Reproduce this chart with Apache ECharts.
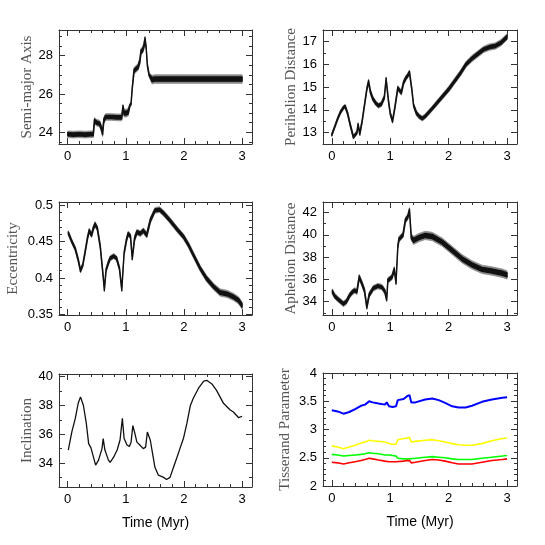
<!DOCTYPE html>
<html>
<head>
<meta charset="utf-8">
<script src="https://cdn.jsdelivr.net/npm/echarts@6/dist/echarts.min.js"></script>
<style>
  html, body { margin: 0; padding: 0; background: #fff; }
  #chart { width: 545px; height: 545px; }
</style>
</head>
<body>
<div id="chart"></div>
<script>
// ---- data (time in Myr) ----
// semi-major axis: centre of the noisy band and its full thickness
var aT   = [0, 0.1, 0.2, 0.3, 0.4, 0.44, 0.46, 0.5, 0.55, 0.58, 0.6, 0.62, 0.65, 0.75, 0.85, 0.93, 0.95, 0.97, 1.0, 1.04, 1.07, 1.09, 1.11, 1.14, 1.17, 1.21, 1.24, 1.26, 1.29, 1.31, 1.33, 1.35, 1.37, 1.4, 1.45, 1.5, 2.0, 2.5, 3.0];
var aMid = [23.9, 23.88, 23.9, 23.88, 23.9, 23.9, 24.6, 24.5, 24.45, 24.2, 23.95, 24.6, 24.8, 24.8, 24.78, 24.78, 25.35, 25.0, 25.0, 25.05, 25.4, 25.5, 26.3, 27.2, 27.3, 27.4, 27.7, 28.2, 28.3, 28.5, 28.85, 28.4, 27.5, 27.0, 26.75, 26.78, 26.78, 26.78, 26.78];
var aWid = [0.35, 0.35, 0.35, 0.35, 0.35, 0.35, 0.35, 0.35, 0.35, 0.35, 0.35, 0.35, 0.35, 0.35, 0.35, 0.35, 0.2, 0.4, 0.4, 0.4, 0.2, 0.2, 0.2, 0.35, 0.35, 0.35, 0.35, 0.35, 0.35, 0.35, 0.35, 0.2, 0.2, 0.2, 0.45, 0.45, 0.45, 0.45, 0.45];

// perihelion distance
var qT   = [0, 0.05, 0.1, 0.15, 0.2, 0.23, 0.27, 0.32, 0.37, 0.4, 0.43, 0.45, 0.48, 0.52, 0.56, 0.6, 0.63, 0.66, 0.7, 0.75, 0.8, 0.85, 0.9, 0.93, 0.97, 1.0, 1.04, 1.08, 1.13, 1.16, 1.19, 1.23, 1.27, 1.3, 1.33, 1.37, 1.4, 1.45, 1.5, 1.55, 1.6, 1.7, 1.8, 1.9, 2.0, 2.1, 2.2, 2.3, 2.4, 2.5, 2.6, 2.7, 2.8, 2.9, 3.0];
var qMid = [12.9, 13.25, 13.6, 13.9, 14.1, 14.15, 13.85, 13.3, 12.8, 12.9, 13.0, 13.35, 12.95, 13.5, 14.2, 14.9, 15.25, 14.8, 14.5, 14.3, 14.18, 14.25, 14.55, 15.35, 14.4, 13.85, 13.5, 14.1, 14.95, 14.85, 14.75, 15.2, 15.4, 15.5, 15.65, 14.9, 14.2, 13.85, 13.7, 13.62, 13.72, 14.0, 14.3, 14.6, 14.9, 15.25, 15.6, 16.0, 16.25, 16.45, 16.65, 16.75, 16.8, 16.95, 17.2];
var qWid = [0.14, 0.14, 0.16, 0.18, 0.18, 0.18, 0.18, 0.18, 0.18, 0.18, 0.18, 0.18, 0.18, 0.18, 0.18, 0.18, 0.18, 0.22, 0.22, 0.22, 0.22, 0.22, 0.22, 0.18, 0.18, 0.18, 0.18, 0.18, 0.22, 0.22, 0.22, 0.22, 0.22, 0.22, 0.18, 0.18, 0.18, 0.22, 0.22, 0.22, 0.22, 0.22, 0.24, 0.24, 0.26, 0.26, 0.26, 0.26, 0.28, 0.28, 0.28, 0.28, 0.28, 0.28, 0.28];

// eccentricity
var eT   = [0.01, 0.06, 0.13, 0.18, 0.22, 0.26, 0.3, 0.34, 0.37, 0.41, 0.44, 0.47, 0.51, 0.56, 0.61, 0.63, 0.66, 0.7, 0.73, 0.79, 0.84, 0.89, 0.93, 0.97, 1.01, 1.04, 1.08, 1.11, 1.15, 1.19, 1.25, 1.3, 1.36, 1.42, 1.5, 1.58, 1.65, 1.75, 1.82, 1.9, 1.99, 2.08, 2.16, 2.28, 2.39, 2.51, 2.62, 2.74, 2.85, 2.94, 3.0];
var eMid = [0.462, 0.452, 0.44, 0.425, 0.41, 0.418, 0.436, 0.455, 0.465, 0.459, 0.468, 0.474, 0.468, 0.443, 0.402, 0.384, 0.411, 0.421, 0.427, 0.43, 0.427, 0.413, 0.384, 0.434, 0.452, 0.461, 0.457, 0.427, 0.454, 0.463, 0.461, 0.465, 0.459, 0.479, 0.493, 0.494, 0.489, 0.48, 0.473, 0.465, 0.457, 0.445, 0.432, 0.413, 0.399, 0.388, 0.38, 0.378, 0.374, 0.369, 0.362];
var eWid = [0.006, 0.006, 0.006, 0.006, 0.006, 0.006, 0.006, 0.006, 0.007, 0.007, 0.007, 0.007, 0.007, 0.007, 0.006, 0.006, 0.006, 0.007, 0.007, 0.007, 0.007, 0.006, 0.006, 0.006, 0.007, 0.007, 0.007, 0.006, 0.008, 0.008, 0.008, 0.008, 0.008, 0.008, 0.008, 0.008, 0.008, 0.008, 0.008, 0.008, 0.008, 0.008, 0.008, 0.008, 0.009, 0.009, 0.01, 0.01, 0.01, 0.01, 0.01];

// aphelion distance
var QT   = [0.01, 0.05, 0.11, 0.2, 0.25, 0.31, 0.36, 0.39, 0.43, 0.47, 0.51, 0.56, 0.6, 0.64, 0.71, 0.79, 0.86, 0.91, 0.94, 0.96, 1.03, 1.07, 1.1, 1.13, 1.15, 1.22, 1.26, 1.3, 1.33, 1.36, 1.4, 1.49, 1.6, 1.72, 1.89, 2.06, 2.23, 2.4, 2.57, 2.74, 2.92, 3.0];
var QMid = [34.9, 34.5, 34.2, 33.8, 34.0, 34.6, 34.9, 35.0, 34.9, 36.2, 35.7, 35.0, 33.5, 34.6, 35.2, 35.4, 35.3, 34.9, 34.2, 35.9, 36.2, 36.9, 35.7, 38.9, 39.6, 40.0, 41.3, 41.6, 42.2, 39.8, 39.5, 39.75, 39.95, 39.85, 39.35, 38.6, 37.85, 37.3, 36.9, 36.75, 36.55, 36.4];
var QWid = [0.5, 0.5, 0.5, 0.5, 0.5, 0.5, 0.5, 0.5, 0.5, 0.5, 0.5, 0.5, 0.4, 0.5, 0.5, 0.5, 0.5, 0.5, 0.4, 0.5, 0.5, 0.5, 0.4, 0.5, 0.5, 0.5, 0.5, 0.5, 0.5, 0.6, 0.75, 0.75, 0.75, 0.75, 0.75, 0.75, 0.75, 0.75, 0.75, 0.75, 0.75, 0.75];

// inclination (deg)
var iT   = [0.01, 0.07, 0.13, 0.18, 0.22, 0.27, 0.32, 0.36, 0.4, 0.43, 0.48, 0.53, 0.59, 0.61, 0.64, 0.7, 0.73, 0.79, 0.85, 0.9, 0.94, 0.97, 1.02, 1.06, 1.09, 1.12, 1.15, 1.19, 1.24, 1.3, 1.34, 1.37, 1.42, 1.46, 1.5, 1.56, 1.65, 1.7, 1.76, 1.82, 1.88, 1.93, 1.99, 2.05, 2.11, 2.16, 2.25, 2.34, 2.39, 2.48, 2.56, 2.68, 2.79, 2.85, 2.94, 3.0];
var iVal = [34.9, 36.15, 37.1, 38.15, 38.6, 38.0, 36.75, 35.35, 35.05, 35.1, 33.85, 34.2, 35.0, 35.7, 34.9, 34.2, 34.05, 34.4, 34.9, 35.6, 37.1, 35.7, 35.25, 35.15, 35.45, 36.6, 36.15, 35.45, 35.25, 35.0, 35.1, 36.15, 35.6, 34.65, 33.7, 33.15, 33.0, 32.85, 33.0, 33.7, 34.4, 35.0, 35.7, 36.75, 38.0, 38.5, 39.2, 39.7, 39.75, 39.5, 39.05, 38.15, 37.7, 37.55, 37.15, 37.25];

// Tisserand parameter w.r.t. four planets
var tT      = [0, 0.1, 0.2, 0.3, 0.4, 0.5, 0.57, 0.64, 0.7, 0.8, 0.91, 0.94, 0.98, 1.04, 1.1, 1.13, 1.23, 1.29, 1.33, 1.36, 1.43, 1.6, 1.72, 1.83, 1.94, 2.06, 2.17, 2.29, 2.4, 2.57, 2.74, 2.92, 3.0];
var tBlue   = [3.34, 3.32, 3.28, 3.31, 3.36, 3.42, 3.44, 3.5, 3.48, 3.46, 3.44, 3.48, 3.41, 3.4, 3.41, 3.52, 3.54, 3.59, 3.61, 3.48, 3.48, 3.53, 3.55, 3.52, 3.47, 3.41, 3.39, 3.39, 3.42, 3.49, 3.53, 3.56, 3.57];
var tYellow = [2.71, 2.69, 2.66, 2.69, 2.72, 2.76, 2.78, 2.81, 2.8, 2.79, 2.78, 2.8, 2.75, 2.74, 2.74, 2.82, 2.84, 2.85, 2.86, 2.78, 2.79, 2.81, 2.82, 2.8, 2.78, 2.75, 2.73, 2.72, 2.72, 2.75, 2.8, 2.84, 2.85];
var tGreen  = [2.56, 2.55, 2.53, 2.54, 2.55, 2.56, 2.57, 2.59, 2.58, 2.57, 2.55, 2.55, 2.55, 2.54, 2.53, 2.49, 2.48, 2.48, 2.48, 2.48, 2.49, 2.51, 2.52, 2.51, 2.5, 2.48, 2.47, 2.47, 2.47, 2.49, 2.51, 2.53, 2.54];
var tRed    = [2.42, 2.41, 2.39, 2.41, 2.43, 2.45, 2.47, 2.49, 2.48, 2.46, 2.44, 2.44, 2.43, 2.43, 2.43, 2.44, 2.44, 2.45, 2.45, 2.41, 2.42, 2.45, 2.47, 2.46, 2.44, 2.41, 2.39, 2.39, 2.39, 2.42, 2.45, 2.47, 2.48];

// ---- ticks ----
var xMajor = [0, 1, 2, 3];
var xMinor = [0.2, 0.4, 0.6, 0.8, 1.2, 1.4, 1.6, 1.8, 2.2, 2.4, 2.6, 2.8];
var aMajor = [24, 26, 28],                aMinor = [23.5, 24.5, 25, 25.5, 26.5, 27, 27.5, 28.5, 29];
var qMajor = [13, 14, 15, 16, 17],        qMinor = [13.5, 14.5, 15.5, 16.5];
var eMajor = [0.35, 0.4, 0.45, 0.5],      eMinor = [0.36, 0.37, 0.38, 0.39, 0.41, 0.42, 0.43, 0.44, 0.46, 0.47, 0.48, 0.49];
var QMajor = [34, 36, 38, 40, 42],        QMinor = [33, 35, 37, 39, 41];
var iMajor = [34, 36, 38, 40],            iMinor = [33, 35, 37, 39];
var tMajor = [2, 2.5, 3, 3.5, 4],         tMinor = [2.1, 2.2, 2.3, 2.4, 2.6, 2.7, 2.8, 2.9, 3.1, 3.2, 3.3, 3.4, 3.6, 3.7, 3.8, 3.9];

// ---- panels ----
var panels = [
  { box: [59, 30, 193, 114],  y: [23.39, 29.34], major: aMajor, minor: aMinor, name: 'Semi-major Axis',     gap: 23 },
  { box: [323, 30, 194, 114], y: [12.5, 17.5],   major: qMajor, minor: qMinor, name: 'Perihelion Distance', gap: 22 },
  { box: [59, 202, 193, 113], y: [0.349, 0.5045], major: eMajor, minor: eMinor, name: 'Eccentricity',       gap: 38 },
  { box: [323, 202, 194, 113], y: [32.8, 42.95], major: QMajor, minor: QMinor, name: 'Aphelion Distance',   gap: 23 },
  { box: [59, 374, 193, 113], y: [32.33, 40.19], major: iMajor, minor: iMinor, name: 'Inclination',         gap: 23 },
  { box: [323, 373, 194, 113], y: [2, 4],        major: tMajor, minor: tMinor, name: 'Tisserand Parameter', gap: 30 }
];

var boxColor = '#333';
var grids = [], xAxes = [], yAxes = [], series = [];

function tickAxis(base, pos, vals, len, withLine) {
  return Object.assign({
    type: 'value',
    position: pos,
    axisLine: { show: withLine, onZero: false, lineStyle: { color: boxColor, width: 1 } },
    axisTick: { show: true, inside: true, length: len, customValues: vals, lineStyle: { color: boxColor, width: 1 } },
    axisLabel: { show: false },
    splitLine: { show: false }
  }, base);
}

panels.forEach(function (p, g) {
  grids.push({ left: p.box[0], top: p.box[1], width: p.box[2], height: p.box[3] });
  var xb = { gridIndex: g, min: -0.15, max: 3.17 };
  var yb = { gridIndex: g, min: p.y[0], max: p.y[1] };

  var xMain = tickAxis(xb, 'bottom', xMajor, 6, true);
  xMain.axisLabel = {
    show: true, customValues: xMajor, margin: 6,
    fontFamily: 'Liberation Sans', fontSize: 13, color: '#000'
  };
  if (g >= 4) {
    xMain.name = 'Time (Myr)';
    xMain.nameLocation = 'middle';
    xMain.nameGap = 29;
    xMain.nameTextStyle = { fontFamily: 'Liberation Sans', fontSize: 14, color: '#000' };
  }
  xAxes.push(xMain, tickAxis(xb, 'bottom', xMinor, 3, false),
             tickAxis(xb, 'top', xMajor, 6, true), tickAxis(xb, 'top', xMinor, 3, false));

  var yMain = tickAxis(yb, 'left', p.major, 6, true);
  yMain.axisLabel = {
    show: true, customValues: p.major, margin: 6,
    fontFamily: 'Liberation Sans', fontSize: 13, color: '#000',
    formatter: function (v) { return String(+(+v).toFixed(2)); }
  };
  yMain.name = p.name;
  yMain.nameLocation = 'middle';
  yMain.nameRotate = 90;
  yMain.nameGap = p.gap;
  yMain.nameTextStyle = { fontFamily: 'Liberation Serif', fontSize: 15, color: '#555' };
  yAxes.push(yMain, tickAxis(yb, 'left', p.minor, 3, false),
             tickAxis(yb, 'right', p.major, 6, true), tickAxis(yb, 'right', p.minor, 3, false));
});

// noisy orbital elements: a light outer band (the oscillation) with a dark core
function band(g, ts, mid, wid, frac, color, stroke) {
  return {
    type: 'custom', xAxisIndex: g * 4, yAxisIndex: g * 4, silent: true,
    data: [[ts[0], mid[0]]],
    renderItem: function (params, api) {
      var up = [], lo = [];
      for (var k = 0; k < ts.length; k++) {
        up.push(api.coord([ts[k], mid[k] + wid[k] * frac / 2]));
        lo.push(api.coord([ts[k], mid[k] - wid[k] * frac / 2]));
      }
      return {
        type: 'polygon',
        shape: { points: up.concat(lo.reverse()) },
        style: { fill: color, stroke: color, lineWidth: stroke, lineJoin: 'round' }
      };
    }
  };
}

function noisy(g, ts, mid, wid) {
  return [band(g, ts, mid, wid, 1, '#8a8a8a', 0.8), band(g, ts, mid, wid, 0.5, '#111', 1.3)];
}

function line(g, ts, vals, color, w) {
  return {
    type: 'line', xAxisIndex: g * 4, yAxisIndex: g * 4, silent: true,
    showSymbol: false, smooth: false,
    lineStyle: { color: color, width: w },
    data: ts.map(function (t, k) { return [t, vals[k]]; })
  };
}

series = series.concat(
  noisy(0, aT, aMid, aWid),
  noisy(1, qT, qMid, qWid),
  noisy(2, eT, eMid, eWid),
  noisy(3, QT, QMid, QWid),
  [
    line(4, iT, iVal, '#111', 1.3),
    line(5, tT, tBlue, '#0000ff', 2),
    line(5, tT, tYellow, '#ffff00', 1.6),
    line(5, tT, tGreen, '#00ff00', 1.6),
    line(5, tT, tRed, '#ff0000', 1.6)
  ]
);

var chart = echarts.init(document.getElementById('chart'), null, { renderer: 'canvas' });
chart.setOption({
  animation: false,
  backgroundColor: '#fff',
  grid: grids,
  xAxis: xAxes,
  yAxis: yAxes,
  series: series
});
</script>
</body>
</html>
